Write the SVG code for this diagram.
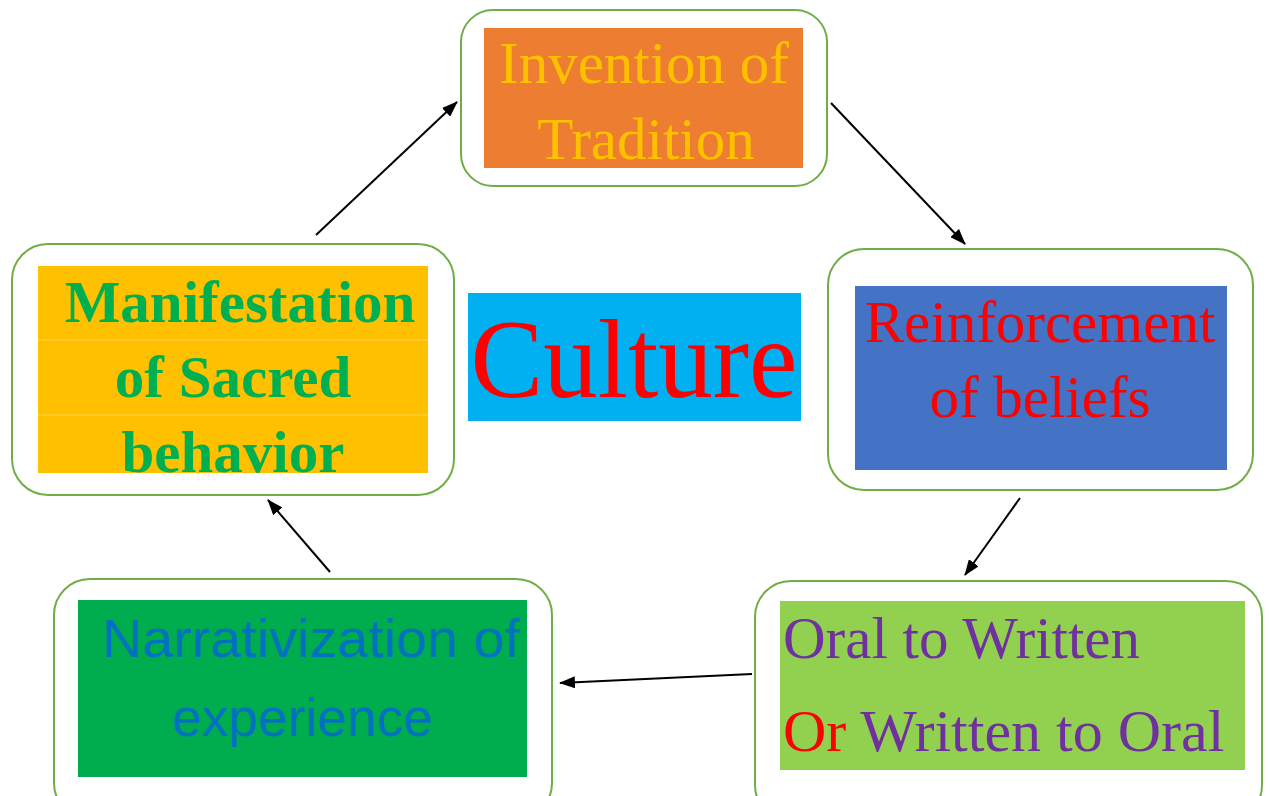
<svg xmlns="http://www.w3.org/2000/svg" width="1270" height="796" viewBox="0 0 1270 796">
<style>
.frame{fill:#fff;stroke:#70AD47;stroke-width:2}
.serif{font-family:"Liberation Serif","Times New Roman",serif}
.sans{font-family:"Liberation Sans",Arial,sans-serif}
.conn{stroke:#000;stroke-width:2;fill:none;marker-end:url(#ah)}
</style>
<defs>
<marker id="ah" viewBox="0 0 16 12" refX="15" refY="6" markerWidth="16" markerHeight="12" markerUnits="userSpaceOnUse" orient="auto">
<path d="M0,0 L16,6 L0,12 z" fill="#000"/>
</marker>
<clipPath id="clipM"><rect x="38" y="266" width="390" height="207"/></clipPath>
</defs>
<rect width="1270" height="796" fill="#fff"/>

<g id="invention">
<rect class="frame" x="461" y="10" width="366" height="176" rx="32"/>
<rect x="484" y="28" width="319" height="140" fill="#ED7D31"/>
<text class="serif" x="644" y="83" font-size="59" fill="#FFC000" text-anchor="middle">Invention of</text>
<text class="serif" x="646" y="159" font-size="59" fill="#FFC000" text-anchor="middle">Tradition</text>
</g>

<g id="reinforcement">
<rect class="frame" x="828" y="249" width="425" height="241" rx="36"/>
<rect x="855" y="286" width="372" height="184" fill="#4472C4"/>
<text class="serif" x="1040" y="342" font-size="59" fill="#FF0000" text-anchor="middle">Reinforcement</text>
<text class="serif" x="1040" y="417" font-size="59" fill="#FF0000" text-anchor="middle">of beliefs</text>
</g>

<g id="culture">
<rect x="468" y="293" width="333" height="128" fill="#00B0F0"/>
<text class="serif" x="634" y="397" font-size="112" fill="#FF0000" text-anchor="middle" textLength="327" lengthAdjust="spacingAndGlyphs">Culture</text>
</g>

<g id="manifestation">
<rect class="frame" x="12" y="244" width="442" height="251" rx="36"/>
<rect x="38" y="266" width="390" height="207" fill="#FFC000"/>
<line x1="38" y1="340" x2="428" y2="340" stroke="#FFD34D" stroke-width="1"/>
<line x1="38" y1="415" x2="428" y2="415" stroke="#FFD34D" stroke-width="1"/>
<g clip-path="url(#clipM)" class="serif" font-weight="bold" font-size="59" fill="#00B050" text-anchor="middle">
<text x="240" y="322">Manifestation</text>
<text x="233" y="397">of Sacred</text>
<text x="233" y="472">behavior</text>
</g>
</g>

<g id="narrativization">
<rect class="frame" x="54" y="579" width="498" height="240" rx="36"/>
<rect x="78" y="600" width="449" height="177" fill="#00AD4E"/>
<text class="sans" x="102" y="657" font-size="54" fill="#0070C0" textLength="418" lengthAdjust="spacingAndGlyphs">Narrativization of</text>
<text class="sans" x="172" y="736" font-size="54" fill="#0070C0" textLength="261" lengthAdjust="spacingAndGlyphs">experience</text>
</g>

<g id="oral">
<rect class="frame" x="755" y="581" width="507" height="240" rx="36"/>
<rect x="780" y="601" width="465" height="169" fill="#92D050"/>
<text class="serif" x="783" y="658" font-size="59" fill="#7030A0">Oral to Written</text>
<text class="serif" x="783" y="751" font-size="60" fill="#7030A0"><tspan fill="#FF0000">Or</tspan> Written to Oral</text>
</g>

<g id="connectors">
<line class="conn" x1="316" y1="235" x2="457" y2="102"/>
<line class="conn" x1="831" y1="103" x2="965" y2="244"/>
<line class="conn" x1="1020" y1="498" x2="965" y2="575"/>
<line class="conn" x1="752" y1="674" x2="560" y2="683"/>
<line class="conn" x1="330" y1="572" x2="268" y2="500"/>
</g>
</svg>
